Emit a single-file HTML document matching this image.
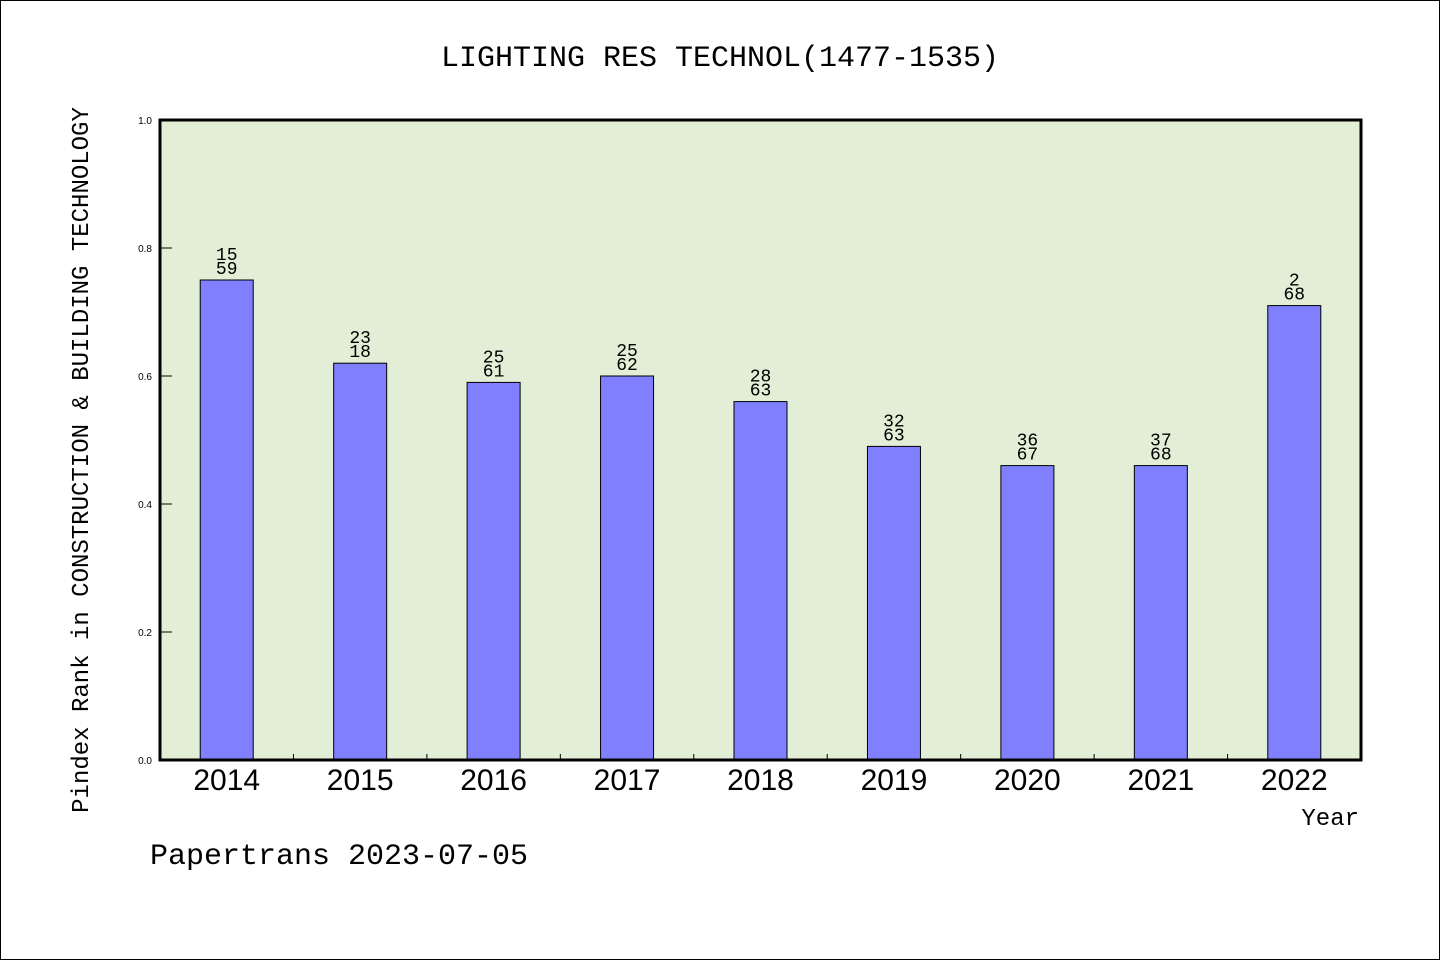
<!DOCTYPE html>
<html><head><meta charset="utf-8"><style>
body{margin:0;background:#fff}
svg{display:block}
.m{font-family:"Liberation Mono","WenQuanYi Zen Hei",monospace}
.s{font-family:"Liberation Sans",sans-serif}
</style></head><body>
<svg id="chart" width="1440" height="960" xmlns="http://www.w3.org/2000/svg">
<rect x="0.5" y="0.5" width="1439" height="959" fill="#fff" stroke="#000"/>
<text x="720" y="66" text-anchor="middle" font-size="30" class="m">LIGHTING RES TECHNOL(1477-1535)</text>
<rect x="160" y="120" width="1201" height="640" fill="#e2efd6"/>
<g id="yaxis"></g>
<g id="bars"></g>
<g id="xaxis"></g>
<rect x="160" y="120" width="1201" height="640" fill="none" stroke="#000" stroke-width="3"/>
<text transform="translate(88,460) rotate(-90)" text-anchor="middle" font-size="24" class="m">Pindex Rank in CONSTRUCTION &amp; BUILDING TECHNOLOGY</text>
<text x="1359" y="825" text-anchor="end" font-size="24" class="m">Year</text>
<text x="150" y="864" font-size="30" class="m">Papertrans 2023-07-05</text>
</svg>
<script>
const categories=["2014","2015","2016","2017","2018","2019","2020","2021","2022"];
const values=[0.75,0.62,0.59,0.60,0.56,0.49,0.46,0.46,0.71];
const topLabels=["15","23","25","25","28","32","36","37","2"];
const bottomLabels=["59","18","61","62","63","63","67","68","68"];
const yTicks=[0,0.2,0.4,0.6,0.8,1.0];
const X0=160,W=1201,Y0=760,H=640;
const band=W/categories.length;
const xc=i=>X0+band*(i+0.5);
const y=v=>Y0-v*H;
const NS="http://www.w3.org/2000/svg";
function mk(t,a,p,txt){const e=document.createElementNS(NS,t);for(const k in a)e.setAttribute(k,a[k]);if(txt!==undefined)e.textContent=txt;p.appendChild(e);return e;}
const ya=document.getElementById('yaxis'),ba=document.getElementById('bars'),xa=document.getElementById('xaxis');
yTicks.forEach(v=>{
 const l=mk('line',{x1:X0,x2:X0+12,y1:y(v),y2:y(v),stroke:'#000'},ya);
 
 
 const t=mk('text',{x:X0-8,y:y(v)+4,'text-anchor':'end','font-size':10,class:'s'},ya,v.toFixed(1));
 
 
});
categories.forEach((c,i)=>{
 const r=mk('rect',{x:xc(i)-26.5,y:y(values[i]),width:53,height:values[i]*H,fill:'#8080ff',stroke:'#000','stroke-width':1},ba);
 
 
 const t1=mk('text',{x:xc(i),y:y(values[i])-20,'text-anchor':'middle','font-size':18,class:'m'},ba,topLabels[i]);
 
 
 const t2=mk('text',{x:xc(i),y:y(values[i])-6,'text-anchor':'middle','font-size':18,class:'m'},ba,bottomLabels[i]);
 
 
 const xl=mk('text',{x:xc(i),y:Y0+30,'text-anchor':'middle','font-size':30,class:'s'},xa,c);
 
 
 if(i>0){const tk=mk('line',{x1:X0+band*i,x2:X0+band*i,y1:Y0,y2:Y0-6,stroke:'#000'},xa);
 
 }
});
</script>
</body></html>
